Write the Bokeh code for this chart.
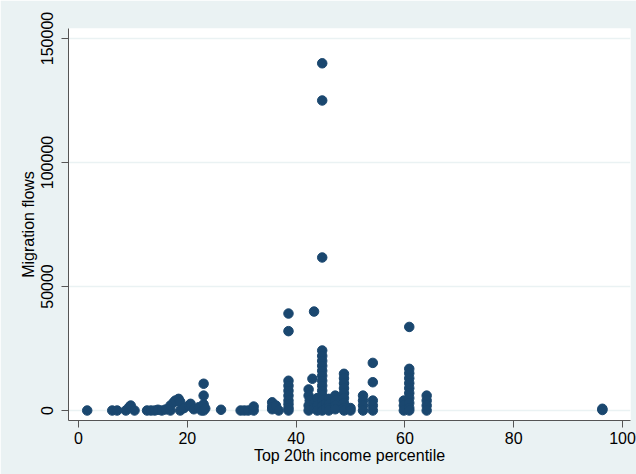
from bokeh.plotting import figure
from bokeh.embed import file_html
from bokeh.resources import INLINE
from bokeh.models import ColumnDataSource, FixedTicker, NumeralTickFormatter, BoxAnnotation

# Top 20th income percentile (x) and migration flows (y)
income_pct = [
    1.6, 6.2, 7.1, 8.7, 9.3, 9.6, 10.3, 12.6, 13.3, 14.0, 14.6, 15.3, 16.0, 16.9, 16.9,
    17.5, 17.8, 18.4, 18.7, 18.7, 19.4, 20.3, 20.6, 21.2, 22.1, 22.6, 23.0, 23.0, 23.0,
    23.0, 23.3, 26.2, 29.8, 30.5, 31.2, 32.2, 32.2,
    35.6, 35.6, 35.6, 36.3, 36.8,
    38.6, 38.6, 38.6, 38.6, 38.6, 38.6, 38.6, 38.6, 38.6, 38.6,
    43.3, 42.3, 43.0, 42.3, 42.5, 42.3, 42.3, 43.3, 43.3, 43.9, 43.9, 43.9,
    44.8, 44.8, 44.8, 44.8, 44.8, 44.8, 44.8, 44.8, 44.8, 44.8, 44.8, 44.8, 44.8, 44.8,
    44.8, 44.8,
    45.5, 45.5, 46.0, 46.0, 46.0, 46.0, 47.2, 47.2, 47.2, 47.2,
    48.8, 48.8, 48.8, 48.8, 48.8, 48.8, 48.8, 48.8, 48.8, 50.0, 50.0,
    52.3, 52.3, 52.3, 52.3, 54.1, 54.1, 54.1, 54.1, 54.1,
    59.8, 59.8, 59.8,
    60.8, 60.8, 60.8, 60.8, 60.8, 60.8, 60.8, 60.8, 60.8, 60.8, 60.8,
    64.0, 64.0, 64.0, 64.0,
    96.3, 96.3,
]
migration_flows = [
    0, 0, 0, 0, 1300, 2000, 0, 0, 0, 0, 300, 0, 400, 0, 2000,
    3300, 4000, 4700, 3500, 0, 1000, 2000, 2700, 500, 1300, 0, 10800, 6000, 2500,
    0, 800, 300, 0, 0, 0, 0, 1600,
    3300, 1500, 500, 2000, 0,
    39100, 32000, 12000, 10000, 8000, 6000, 4000, 2500, 1000, 0,
    39900, 8500, 12800, 6000, 4000, 2000, 0, 3000, 1000, 5000, 2000, 0,
    140000, 125000, 61700, 24200, 22000, 20000, 18000, 16000, 14000, 12000, 10000, 8000,
    6000, 4000, 2000, 0,
    3000, 1000, 4700, 2500, 1000, 0, 6000, 4000, 2000, 500,
    14800, 13000, 11000, 9000, 7000, 5000, 3000, 1000, 0, 1000, 0,
    6000, 4000, 2000, 0, 19200, 11400, 4000, 2000, 0,
    4000, 2000, 0,
    33700, 16800, 15000, 13000, 11000, 9000, 7000, 5000, 3000, 1000, 0,
    6000, 4000, 2000, 0,
    200, 700,
]
x_ticks = [0, 20, 40, 60, 80, 100]
y_ticks = [0, 50000, 100000, 150000]

BG = "#EAF2F3"
NAVY = "#1A476F"
FONT = "Liberation Sans"

src = ColumnDataSource(dict(x=income_pct, y=migration_flows))

p = figure(width=636, height=474, output_backend="svg", toolbar_location=None,
           x_range=(-1.84, 101.47), y_range=(-4030, 154030),
           min_border_left=68, min_border_right=6, min_border_top=28, min_border_bottom=54)
p.background_fill_color = "white"
p.border_fill_color = BG
p.outline_line_color = None

# white strip across the top of the page, with a thin rule under it
p.add_layout(BoxAnnotation(left=0, right=636, top=0, bottom=11,
                           left_units="canvas", right_units="canvas",
                           top_units="canvas", bottom_units="canvas",
                           fill_color="white", fill_alpha=1, line_color=None,
                           propagate_hover=False))
p.add_layout(BoxAnnotation(left=0, right=636, top=11, bottom=12,
                           left_units="canvas", right_units="canvas",
                           top_units="canvas", bottom_units="canvas",
                           fill_color="#5B7F9C", fill_alpha=1, line_color=None))

p.scatter("x", "y", source=src, size=9.5, fill_color=NAVY, line_color=NAVY)

p.xgrid.grid_line_color = None
p.ygrid.grid_line_color = BG
p.ygrid.grid_line_width = 1.5
p.xaxis.ticker = FixedTicker(ticks=x_ticks)
p.yaxis.ticker = FixedTicker(ticks=y_ticks)
p.yaxis.formatter = NumeralTickFormatter(format="0")
p.xaxis.minor_tick_line_color = None
p.yaxis.minor_tick_line_color = None

for ax in (p.xaxis, p.yaxis):
    ax.axis_line_color = "#555555"
    ax.major_tick_line_color = "#555555"
    ax.major_tick_out = 7
    ax.major_tick_in = 0
    ax.major_label_text_font = FONT
    ax.major_label_text_font_size = "16px"
    ax.major_label_text_color = "black"
    ax.axis_label_text_font = FONT
    ax.axis_label_text_font_size = "16px"
    ax.axis_label_text_font_style = "normal"
    ax.axis_label_text_color = "black"

p.xaxis.axis_label = "Top 20th income percentile"
p.yaxis.axis_label = "Migration flows"
p.yaxis.major_label_orientation = "vertical"
p.xaxis.major_label_standoff = 4
p.yaxis.major_label_standoff = 8
p.xaxis.axis_label_standoff = 0
p.yaxis.axis_label_standoff = 2

open("out.html", "w").write(file_html(p, INLINE))
